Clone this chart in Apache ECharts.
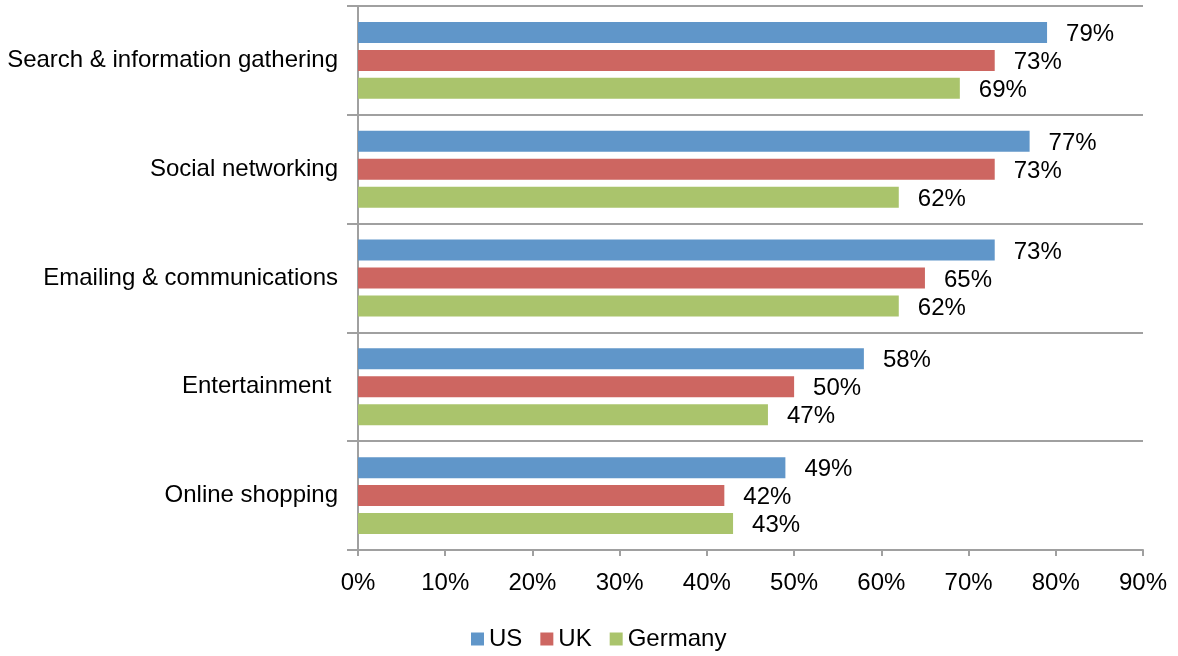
<!DOCTYPE html>
<html>
<head>
<meta charset="utf-8">
<script src="https://cdn.jsdelivr.net/npm/echarts@6/dist/echarts.min.js"></script>
<style>
  html, body { margin: 0; padding: 0; background: #fff; }
  #chart { width: 1178px; height: 656px; }
</style>
</head>
<body>
<div id="chart"></div>
<script>
// Share of respondents using each activity, by country (%)
const categories = [
  'Search & information gathering',
  'Social networking',
  'Emailing & communications',
  'Entertainment ',
  'Online shopping'
];
const usValues = [79, 77, 73, 58, 49];
const ukValues = [73, 73, 65, 50, 42];
const germanyValues = [69, 62, 62, 47, 43];
const seriesNames = ['US', 'UK', 'Germany'];

const FONT = '"Liberation Sans", Arial, sans-serif';
const FONT_SIZE = 24;
const AXIS_GREY = '#a0a0a0';
const colors = ['#6096c9', '#cd6661', '#aac46c'];

function barSeries(name, values, color) {
  return {
    name: name,
    type: 'bar',
    data: values,
    barWidth: 21,
    barGap: '33%',
    itemStyle: { color: color },
    label: {
      show: true,
      position: 'right',
      distance: 19,
      offset: [0, 2],
      formatter: '{c}%',
      color: '#000',
      fontFamily: FONT,
      fontSize: FONT_SIZE
    }
  };
}

const chart = echarts.init(document.getElementById('chart'));
chart.setOption({
  animation: false,
  color: colors,
  grid: { left: 358, right: 35, top: 6, bottom: 106, containLabel: false },
  legend: {
    data: seriesNames,
    left: 466,
    top: 622,
    icon: 'rect',
    itemWidth: 13,
    itemHeight: 13,
    itemGap: 18,
    itemTextGap: 5,
    textStyle: { fontFamily: FONT, fontSize: FONT_SIZE, color: '#000', padding: [2, 0, 0, 0] }
  },
  xAxis: {
    type: 'value',
    min: 0,
    max: 90,
    interval: 10,
    axisLine: { show: true, lineStyle: { color: AXIS_GREY, width: 2 } },
    axisTick: { show: true, length: 6, lineStyle: { color: AXIS_GREY, width: 2 } },
    splitLine: { show: false },
    axisLabel: {
      formatter: '{value}%',
      color: '#000',
      fontFamily: FONT,
      fontSize: FONT_SIZE,
      margin: 21
    }
  },
  yAxis: {
    type: 'category',
    inverse: true,
    data: categories,
    axisLine: { show: true, lineStyle: { color: AXIS_GREY, width: 2 } },
    axisTick: { show: true, length: 11, lineStyle: { color: AXIS_GREY, width: 2 } },
    splitLine: { show: true, lineStyle: { color: AXIS_GREY, width: 2 } },
    axisLabel: {
      color: '#000',
      fontFamily: FONT,
      fontSize: FONT_SIZE,
      margin: 20,
      padding: [4, 0, 0, 0]
    }
  },
  series: [
    barSeries(seriesNames[0], usValues, colors[0]),
    barSeries(seriesNames[1], ukValues, colors[1]),
    barSeries(seriesNames[2], germanyValues, colors[2])
  ]
});
</script>
</body>
</html>
